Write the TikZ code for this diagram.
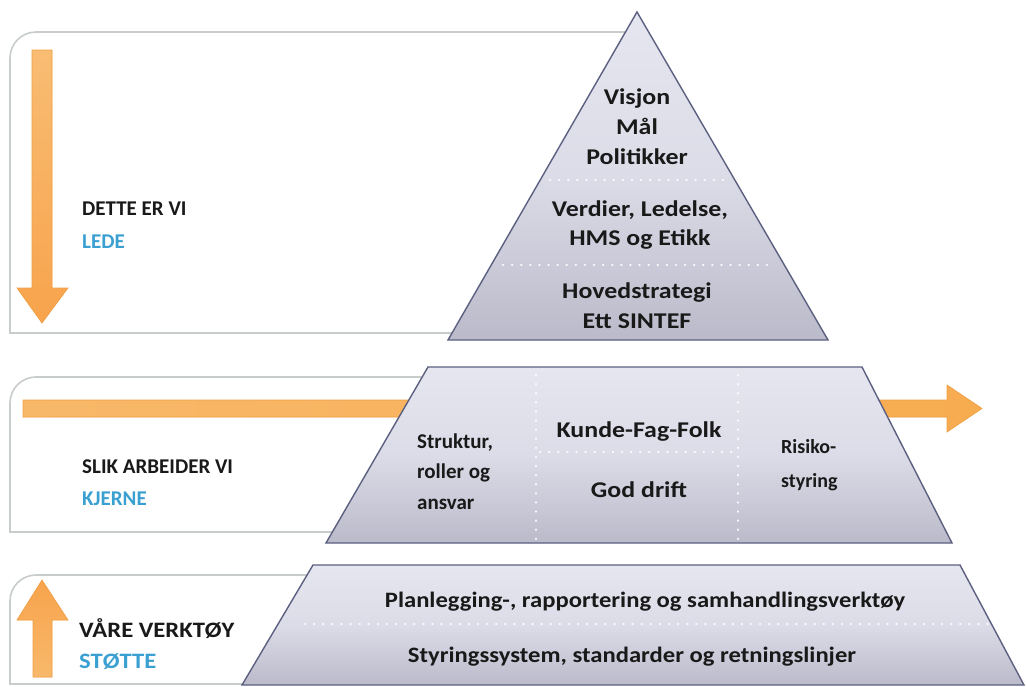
\documentclass[tikz,border=0pt]{standalone}
\usepackage{fontspec}
\setmainfont{Carlito}
\newfontfamily\widefont[FakeStretch=1.15]{Carlito}
\newfontfamily\midwidefont[FakeStretch=1.12]{Carlito}
\newfontfamily\semiwidefont[FakeStretch=1.12]{Carlito}
\begin{document}
\begin{tikzpicture}[x=1pt,y=-1pt,
  boxline/.style={draw=boxgray,line width=1.6pt},
  arrowfill/.style={draw=orangeedge,line width=0.6pt,fill=orangefill},
  pyr/.style={draw=pyredge,line width=1.4pt,top color=pyrtop,bottom color=pyrbot,middle color=pyrmid},
  dots/.style={draw=white,line width=2.6pt,line cap=round,dash pattern=on 0.1pt off 9pt},
  ptext/.style={font=\widefont\fontsize{22.5}{26}\selectfont\bfseries,text=textdark,inner sep=0pt,anchor=base},
  wtext/.style={font=\midwidefont\fontsize{22}{26}\selectfont\bfseries,text=textdark,inner sep=0pt,anchor=base},
  ctext/.style={font=\fontsize{21}{25}\selectfont\bfseries,text=textdark,inner sep=0pt,anchor=base west},
  ltext/.style={font=\fontsize{21}{25}\selectfont\bfseries,text=textdark,inner sep=0pt,anchor=base west},
  btext/.style={font=\fontsize{21}{25}\selectfont\bfseries,text=labelblue,inner sep=0pt,anchor=base west}
]
\definecolor{boxgray}{RGB}{200,204,204}
\definecolor{orangeedge}{RGB}{240,160,70}
\definecolor{orangefill}{RGB}{247,172,80}
\definecolor{pyredge}{RGB}{92,96,128}
\definecolor{pyrtop}{RGB}{230,230,240}
\definecolor{pyrmid}{RGB}{220,220,232}
\definecolor{pyrbot}{RGB}{186,186,202}
\definecolor{textdark}{RGB}{25,25,25}
\definecolor{labelblue}{RGB}{58,160,210}

\useasboundingbox[fill=white] (0,0) rectangle (1026,686);

% frame boxes
\draw[boxline] (626,32) -- (36,32) arc[start angle=270,end angle=180,radius=26] -- (10,333) -- (456,333);
\draw[boxline] (424,377) -- (36,377) arc[start angle=270,end angle=180,radius=26] -- (10,532) -- (340,532);
\draw[boxline] (309,575) -- (36,575) arc[start angle=270,end angle=180,radius=26] -- (10,684) -- (250,684);

% arrows
\path[arrowfill, top color=orangefill!80!white, bottom color=orangefill!95!red]
  (32,50) -- (52,50) -- (52,288) -- (68,288) -- (42,323) -- (17,288) -- (32,288) -- cycle;
\path[arrowfill, left color=orangefill!85!white, right color=orangefill]
  (23,400) -- (947,400) -- (947,385) -- (982,408.5) -- (947,432) -- (947,417) -- (23,417) -- cycle;
\path[arrowfill, top color=orangefill!95!red, bottom color=orangefill!85!white]
  (33,677) -- (52,677) -- (52,620) -- (68,620) -- (42,580) -- (17,620) -- (33,620) -- cycle;

% pyramid levels
\path[pyr] (637,12) -- (828,340) -- (448,340) -- cycle;
\path[pyr] (428,367) -- (862,367) -- (952,543) -- (326,543) -- cycle;
\path[pyr] (313,565) -- (960,565) -- (1024,685) -- (242,685) -- cycle;

% dotted separators
\draw[dots] (550,180) -- (726,180);
\draw[dots] (503,265) -- (772,265);
\draw[dots] (536,375) -- (536,540);
\draw[dots] (738,375) -- (738,540);
\draw[dots] (540,452) -- (734,452);
\draw[dots] (305,624) -- (990,624);

% pyramid texts
\node[ptext] (visjon) at (637,104) {Visjon};
\node[ptext] (maal) at (637,134) {Mål};
\node[ptext] (politikk) at (637,164) {Politikker};
\node[ptext] (verdier) at (640,216) {Verdier, Ledelse,};
\node[ptext] (hms) at (640,245) {HMS og Etikk};
\node[ptext] (hoved) at (637,298) {Hovedstrategi};
\node[ptext] (ett) at (637,328) {Ett SINTEF};

\node[ctext] (struktur) at (417,448) {Struktur,};
\node[ctext] (roller) at (417,478) {roller og};
\node[ctext] (ansvar) at (417,509) {ansvar};
\node[ptext] (kunde) at (639,437) {Kunde-Fag-Folk};
\node[ptext] (drift) at (639,497) {God drift};
\node[ctext,font=\fontsize{20}{24}\selectfont\bfseries] (risiko) at (781,453) {Risiko-};
\node[ctext,font=\fontsize{20}{24}\selectfont\bfseries] (styring) at (781,487) {styring};

\node[wtext] (plan) at (645,607) {Planlegging-, rapportering og samhandlingsverktøy};
\node[wtext] (styrsys) at (632,662) {Styringssystem, standarder og retningslinjer};

% side labels
\node[ltext] (dette) at (82,215) {DETTE ER VI};
\node[btext] (lede) at (82,248) {LEDE};
\node[ltext] (slik) at (82,473) {SLIK ARBEIDER VI};
\node[btext] (kjerne) at (82,505) {KJERNE};
\node[ltext,font=\semiwidefont\fontsize{22}{26}\selectfont\bfseries] (vaare) at (79,637) {VÅRE VERKTØY};
\node[btext,font=\semiwidefont\fontsize{22}{26}\selectfont\bfseries] (stotte) at (79,668) {STØTTE};
\end{tikzpicture}
\end{document}
